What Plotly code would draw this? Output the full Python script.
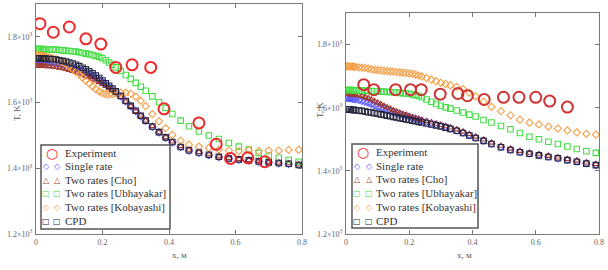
import plotly.graph_objects as go

W, H = 608, 270

# ---------------- data ----------------
x_grid = [0, 0.005, 0.01, 0.015, 0.02, 0.025, 0.03, 0.04, 0.05, 0.06,
          0.07, 0.08, 0.09, 0.1, 0.11, 0.12, 0.13, 0.14, 0.15, 0.16,
          0.17, 0.18, 0.19, 0.2, 0.21, 0.22, 0.23, 0.24, 0.255, 0.27,
          0.285, 0.3, 0.315, 0.33, 0.35, 0.37, 0.39, 0.41, 0.435, 0.46,
          0.49, 0.52, 0.55, 0.58, 0.61, 0.64, 0.67, 0.7, 0.73, 0.76,
          0.79]

# left panel
exp_x_L = [0.012, 0.052, 0.1, 0.15, 0.195, 0.24, 0.289, 0.345, 0.385, 0.49, 0.542, 0.585, 0.637, 0.688]
exp_T_L = [1840, 1814, 1830, 1794, 1778, 1707, 1715, 1707, 1581, 1538, 1473, 1430, 1432, 1420]

single_L = [1725, 1725, 1725, 1725, 1724, 1724, 1724, 1723, 1722, 1721,
            1719, 1717, 1715, 1712, 1709, 1705, 1701, 1697, 1692, 1687,
            1682, 1676, 1670, 1663, 1656, 1648, 1640, 1632, 1619, 1604,
            1589, 1574, 1559, 1544, 1526, 1509, 1493, 1479, 1465, 1454,
            1447, 1440, 1434, 1430, 1426, 1423, 1420, 1418, 1415, 1413,
            1410]
cho_L = [1712, 1712, 1712, 1711, 1711, 1711, 1710, 1710, 1709, 1708,
         1706, 1704, 1702, 1699, 1696, 1693, 1689, 1685, 1681, 1677,
         1672, 1667, 1662, 1656, 1650, 1643, 1636, 1629, 1617, 1603,
         1589, 1574, 1560, 1545, 1528, 1511, 1495, 1481, 1467, 1456,
         1449, 1442, 1436, 1431, 1428, 1425, 1422, 1419, 1417, 1415,
         1411]
ubh_L = [1763, 1763, 1763, 1763, 1763, 1762, 1762, 1762, 1761, 1761,
         1760, 1759, 1758, 1757, 1756, 1755, 1753, 1751, 1749, 1747,
         1745, 1742, 1739, 1735, 1729, 1722, 1715, 1707, 1696, 1684,
         1672, 1660, 1648, 1636, 1619, 1601, 1584, 1565, 1545, 1528,
         1512, 1500, 1489, 1477, 1466, 1457, 1447, 1439, 1432, 1425,
         1420]
kob_L = [1745, 1744, 1744, 1743, 1742, 1741, 1740, 1738, 1735, 1732,
         1728, 1723, 1717, 1710, 1702, 1694, 1685, 1676, 1667, 1658,
         1649, 1641, 1634, 1629, 1626, 1625, 1626, 1628, 1630, 1630,
         1627, 1618, 1605, 1589, 1565, 1543, 1522, 1502, 1484, 1472,
         1466, 1462, 1457, 1454, 1452, 1455, 1452, 1454, 1454, 1456,
         1456]
cpd_L = [1735, 1735, 1735, 1734, 1734, 1734, 1733, 1733, 1732, 1731,
         1729, 1727, 1725, 1722, 1719, 1715, 1711, 1706, 1701, 1695,
         1689, 1682, 1675, 1667, 1659, 1651, 1643, 1634, 1620, 1605,
         1590, 1575, 1560, 1545, 1527, 1510, 1494, 1480, 1465, 1455,
         1448, 1441, 1435, 1430, 1427, 1424, 1421, 1418, 1416, 1414,
         1410]

# right panel
exp_x_R = [0.056, 0.088, 0.157, 0.204, 0.238, 0.298, 0.354, 0.384, 0.437, 0.498, 0.547, 0.6, 0.644, 0.7]
exp_T_R = [1673, 1657, 1657, 1657, 1657, 1643, 1645, 1638, 1626, 1633, 1633, 1633, 1621, 1602]

single_R = [1631, 1631, 1630, 1630, 1629, 1628, 1627, 1625, 1622, 1619,
            1616, 1612, 1608, 1604, 1600, 1597, 1593, 1590, 1586, 1583,
            1580, 1577, 1574, 1571, 1568, 1565, 1562, 1559, 1555, 1551,
            1547, 1543, 1539, 1534, 1528, 1521, 1513, 1505, 1496, 1486,
            1476, 1467, 1460, 1455, 1450, 1445, 1440, 1435, 1430, 1424,
            1419]
cho_R = [1643, 1643, 1643, 1642, 1642, 1641, 1641, 1639, 1637, 1634,
         1630, 1626, 1621, 1616, 1611, 1606, 1601, 1597, 1592, 1588,
         1584, 1580, 1577, 1573, 1570, 1567, 1564, 1561, 1557, 1553,
         1549, 1545, 1541, 1537, 1531, 1524, 1516, 1508, 1499, 1489,
         1479, 1470, 1463, 1457, 1452, 1447, 1442, 1437, 1432, 1426,
         1421]
ubh_R = [1656, 1656, 1656, 1656, 1656, 1655, 1655, 1655, 1654, 1654,
         1653, 1653, 1652, 1652, 1651, 1651, 1650, 1650, 1649, 1648,
         1647, 1646, 1645, 1644, 1642, 1640, 1637, 1633, 1626, 1619,
         1612, 1606, 1601, 1597, 1591, 1585, 1578, 1572, 1561, 1553,
         1542, 1532, 1520, 1508, 1500, 1492, 1485, 1477, 1469, 1462,
         1457]
kob_R = [1731, 1731, 1731, 1730, 1730, 1730, 1729, 1728, 1727, 1726,
         1724, 1722, 1720, 1719, 1718, 1717, 1716, 1715, 1714, 1713,
         1712, 1711, 1710, 1709, 1707, 1705, 1702, 1699, 1694, 1689,
         1684, 1679, 1675, 1671, 1666, 1659, 1648, 1636, 1619, 1603,
         1589, 1576, 1562, 1553, 1547, 1540, 1534, 1528, 1522, 1517,
         1515]
cpd_R = [1595, 1595, 1594, 1594, 1593, 1593, 1592, 1591, 1590, 1588,
         1586, 1585, 1583, 1581, 1579, 1577, 1575, 1573, 1571, 1569,
         1567, 1565, 1563, 1561, 1559, 1557, 1555, 1553, 1550, 1547,
         1544, 1541, 1537, 1533, 1527, 1520, 1512, 1504, 1495, 1485,
         1475, 1466, 1459, 1454, 1449, 1444, 1440, 1434, 1429, 1423,
         1418]

series_names = ["Experiment", "Single rate", "Two rates [Cho]", "Two rates [Ubhayakar]",
                "Two rates [Kobayashi]", "CPD"]
x_tickvals = [0, 0.2, 0.4, 0.6, 0.8]
x_ticktext = ["0", "0.2", "0.4", "0.6", "0.8"]
y_tickvals = [1200, 1400, 1600, 1800]
y_ticktext = ["1.2×10<sup>3</sup>", "1.4×10<sup>3</sup>", "1.6×10<sup>3</sup>", "1.8×10<sup>3</sup>"]

# ---------------- styles ----------------
C_EXP = "#ee2a2a"
C_EXP_R = "#cc3434"
C_SINGLE = "#5a5aff"
C_CHO = "#a33a30"
C_UBH = "#45dd45"
C_KOB = "#f5a048"
C_CPD = "#26263e"
SERIF = "Liberation Serif"

def px(x):
    return x / W

def py(y):
    return 1 - y / H

fig = go.Figure()

def add_panel(xa, ya, single, cho, ubh, kob, cpd, ex, et, cexp):
    model = [
        (single, "diamond-open", C_SINGLE, 1),
        (cho, "triangle-up-open", C_CHO, 2),
        (ubh, "square-open", C_UBH, 3),
        (kob, "diamond-open", C_KOB, 4),
        (cpd, "square-open", C_CPD, 5),
    ]
    for vals, sym, col, i in model:
        fig.add_trace(go.Scatter(
            x=x_grid, y=vals, mode="markers", name=series_names[i],
            marker=dict(symbol=sym, size=5.5, color=col, line=dict(color=col, width=1.1)),
            xaxis=xa, yaxis=ya, showlegend=False))
    fig.add_trace(go.Scatter(
        x=ex, y=et, mode="markers", name=series_names[0],
        marker=dict(symbol="circle-open", size=11, color=cexp, line=dict(color=cexp, width=2)),
        xaxis=xa, yaxis=ya, showlegend=False))

add_panel("x", "y", single_L, cho_L, ubh_L, kob_L, cpd_L, exp_x_L, exp_T_L, C_EXP)
add_panel("x2", "y2", single_R, cho_R, ubh_R, kob_R, cpd_R, exp_x_R, exp_T_R, C_EXP_R)

tickfont = dict(family=SERIF, size=8, color="#666666")
xcommon = dict(range=[0, 0.8], tickvals=x_tickvals, ticktext=x_ticktext, ticks="inside",
               ticklen=4, tickcolor="#777777", showline=True, linecolor="#7a7a7a", linewidth=1,
               mirror="ticks", showgrid=False, zeroline=False, tickfont=tickfont,
               automargin=False)
ycommon = dict(range=[1200, 1900], tickvals=y_tickvals, ticktext=y_ticktext, ticks="inside",
               ticklen=4, tickcolor="#777777", showline=True, linecolor="#7a7a7a", linewidth=1,
               mirror="ticks", showgrid=False, zeroline=False, tickfont=tickfont,
               automargin=False, ticklabelstandoff=1)

fig.update_layout(
    width=W, height=H, margin=dict(l=0, r=0, t=0, b=0, autoexpand=False),
    paper_bgcolor="white", plot_bgcolor="white", showlegend=False,
    xaxis=dict(domain=[px(36), px(302)], anchor="y", **xcommon),
    yaxis=dict(domain=[py(234), py(4)], anchor="x", **ycommon),
    xaxis2=dict(domain=[px(346), px(599)], anchor="y2", **xcommon),
    yaxis2=dict(domain=[py(234), py(13)], anchor="x2", **ycommon),
)

annotations = []
shapes = []

# axis titles
for (xt, yt) in [(10, 113), (320, 110)]:
    annotations.append(dict(x=px(xt), y=py(yt), xref="paper", yref="paper", text="T, K",
                            showarrow=False, textangle=-90,
                            font=dict(family=SERIF, size=9, color="#555555")))
for (xt, yt) in [(170, 262), (474, 262)]:
    annotations.append(dict(x=px(xt), y=py(yt), xref="paper", yref="paper", text="x, м",
                            showarrow=False, font=dict(family=SERIF, size=9, color="#555555")))

# manual legends
legend_keys = [
    ("○", C_EXP, 1),
    ("◇", C_SINGLE, 2),
    ("△", C_CHO, 2),
    ("□", C_UBH, 2),
    ("◇", C_KOB, 2),
    ("□", C_CPD, 2),
]

def add_legend(x0, x1, y0, y1, sym1, sym2, text_x, rows):
    shapes.append(dict(type="rect", xref="paper", yref="paper",
                       x0=px(x0), x1=px(x1), y0=py(y1), y1=py(y0),
                       line=dict(color="#555555", width=1.5), fillcolor="white", layer="above"))
    for i, (sym, col, n) in enumerate(legend_keys):
        yy = rows[i]
        if n == 1:
            annotations.append(dict(x=px((sym1 + sym2) / 2), y=py(yy), xref="paper", yref="paper",
                                    text="<b>○</b>", showarrow=False, xanchor="center", yanchor="middle",
                                    font=dict(family="DejaVu Sans", size=14, color=col)))
        else:
            for sx in (sym1, sym2):
                annotations.append(dict(x=px(sx), y=py(yy), xref="paper", yref="paper",
                                        text=sym, showarrow=False, xanchor="center", yanchor="middle",
                                        font=dict(family="DejaVu Sans", size=8, color=col)))
        annotations.append(dict(x=px(text_x), y=py(yy), xref="paper", yref="paper",
                                text=series_names[i], showarrow=False, xanchor="left", yanchor="middle",
                                font=dict(family=SERIF, size=11, color="#333333")))

add_legend(41, 170, 145, 229, 46, 57, 63, [153, 166, 180, 193, 207, 221])
add_legend(352, 478, 144, 228, 357, 369, 374, [152, 166, 179, 193, 207, 221])

fig.update_layout(annotations=annotations, shapes=shapes)
fig.write_html("out.html", config={"displayModeBar": False},
               post_script="document.body.style.margin='0';document.body.style.overflow='hidden';")
